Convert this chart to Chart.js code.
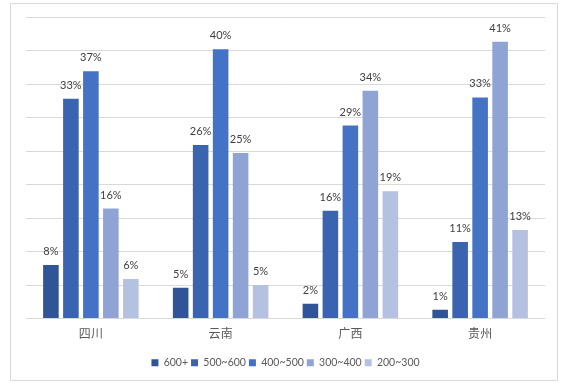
<!DOCTYPE html>
<html>
<head>
<meta charset="utf-8">
<script src="https://cdn.jsdelivr.net/npm/chart.js@4"></script>
<style>
html,body{margin:0;padding:0;background:#fff;}
#wrap{position:relative;width:568px;height:387px;}
</style>
</head>
<body>
<div id="wrap"><canvas id="c" width="568" height="387"></canvas></div>
<script>
const categories = ["四川", "云南", "广西", "贵州"];
const seriesNames = ["600+", "500~600", "400~500", "300~400", "200~300"];
const s600plus  = [8.0, 4.6, 2.2, 1.3];
const s500to600 = [32.8, 25.9, 16.1, 11.4];
const s400to500 = [36.9, 40.2, 28.8, 33.0];
const s300to400 = [16.4, 24.7, 34.0, 41.3];
const s200to300 = [5.9, 5.0, 19.0, 13.2];
const yTicks = {min: 0, max: 45, step: 5};

const seriesValues = [s600plus, s500to600, s400to500, s300to400, s200to300];
const colors = ["#2F5597", "#3A64B0", "#4472C4", "#8FA3D5", "#B4C1E0"];
const FONT = "Lato, 'Noto Sans CJK SC', sans-serif";

const borderPlugin = {
  id: 'outerBorder',
  beforeDraw(chart) {
    const ctx = chart.ctx;
    ctx.save();
    ctx.strokeStyle = '#D9D9D9';
    ctx.lineWidth = 1;
    ctx.strokeRect(10.5, 3.5, 547, 377);
    ctx.restore();
  }
};

const labelPlugin = {
  id: 'barLabels',
  afterDatasetsDraw(chart) {
    const ctx = chart.ctx;
    ctx.save();
    ctx.font = "11px " + FONT;
    ctx.fillStyle = '#404040';
    ctx.textAlign = 'center';
    ctx.textBaseline = 'alphabetic';
    chart.data.datasets.forEach((ds, i) => {
      const meta = chart.getDatasetMeta(i);
      meta.data.forEach((el, j) => {
        const v = ds.data[j];
        ctx.fillText(Math.round(v) + '%', el.x, el.y - 10);
      });
    });
    ctx.restore();
  }
};

new Chart(document.getElementById('c'), {
  type: 'bar',
  data: {
    labels: categories,
    datasets: seriesNames.map((name, i) => ({
      label: name,
      data: seriesValues[i],
      backgroundColor: colors[i],
      borderWidth: 0,
      categoryPercentage: 0.77,
      barPercentage: 0.78
    }))
  },
  options: {
    responsive: false,
    animation: false,
    devicePixelRatio: 1,
    layout: {padding: {left: 26, right: 23, top: 17, bottom: 9}},
    plugins: {
      tooltip: {enabled: false},
      legend: {
        position: 'bottom',
        labels: {
          boxWidth: 7, boxHeight: 7, padding: 3,
          color: '#595959',
          font: {family: FONT, size: 10.5}
        }
      }
    },
    scales: {
      x: {
        grid: {display: false, drawTicks: false},
        border: {display: false},
        ticks: {color: '#595959', font: {family: FONT, size: 12}, padding: 8},
        afterFit(scale) { scale.height = 36; }
      },
      y: {
        min: yTicks.min, max: yTicks.max,
        ticks: {display: false, stepSize: yTicks.step},
        grid: {color: '#D9D9D9', lineWidth: 1, drawTicks: false},
        border: {display: false}
      }
    }
  },
  plugins: [borderPlugin, labelPlugin]
});
</script>
</body>
</html>
